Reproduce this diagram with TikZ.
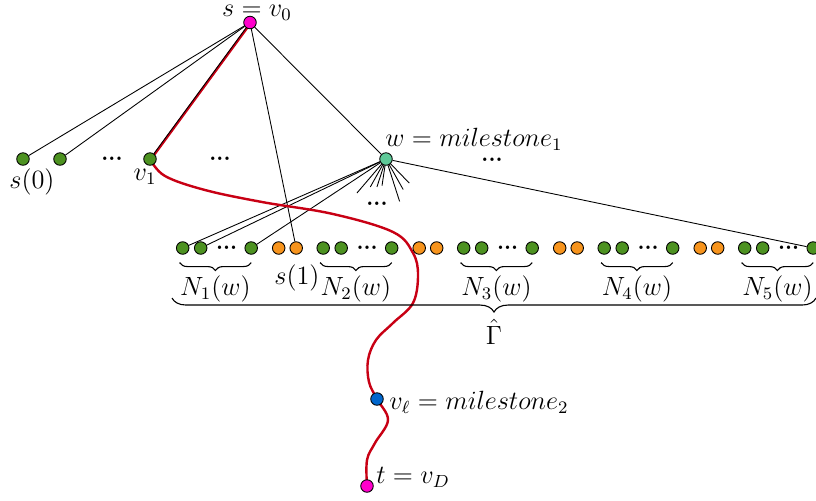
\documentclass[tikz,border=0pt]{standalone}
\usetikzlibrary{decorations.pathreplacing,backgrounds}
\definecolor{verde}{RGB}{77,146,33}
\definecolor{naranja}{RGB}{247,148,29}
\definecolor{menta}{RGB}{94,201,152}
\definecolor{rosa}{RGB}{255,0,204}
\definecolor{azul}{RGB}{0,102,204}
\definecolor{rojo}{RGB}{200,0,20}
\tikzset{
  vert/.style={circle, draw=black, line width=0.4pt, inner sep=0pt, minimum size=5.7pt},
  puntos/.style={font=\bfseries, inner sep=0pt},
  etq/.style={inner sep=1pt},
  llave/.style={decorate, decoration={brace, mirror, amplitude=3.6pt}, line width=0.5pt},
  camino/.style={rojo, line width=1.1pt, line cap=round, line join=round},
  arista/.style={line width=0.4pt}
}
\begin{document}
\begin{tikzpicture}[x=0.16cm, y=-0.16cm, font=\fontsize{11.5pt}{14pt}\selectfont]
  \useasboundingbox (0,0) rectangle (81.6,50);
  % la fuente, el destino y los dos hitos
  \node[vert, fill=rosa] (s) at (25.0,2.25) {};
  \node[vert, fill=menta] (w) at (38.6,15.9) {};
  \node[vert, fill=azul] (vl) at (37.7,39.9) {};
  \node[vert, fill=rosa] (t) at (36.7,48.6) {};
  % la primera fila
  \foreach \n/\x in {a/2.3, b/6.0, v1/15.0} {
    \node[vert, fill=verde] (\n) at (\x,15.9) {};
  }
  \foreach \x in {11.2,22.0} { \node[puntos] at (\x,15.9) {...}; }
  % la segunda fila: cinco grupos N_k(w) y, entre ellos, los naranjas
  \foreach \k in {1,...,5} {
    \pgfmathsetmacro{\x}{18.27+14.05*(\k-1)}
    \node[vert, fill=verde] (ga\k) at (\x,24.8) {};
    \node[vert, fill=verde] (gb\k) at (\x+1.8,24.8) {};
    \node[puntos] (gp\k) at (\x+4.4,24.8) {...};
    \node[vert, fill=verde] (gd\k) at (\x+6.85,24.8) {};
    \draw[llave] ([shift={(-1.4pt,-3.6pt)}]ga\k.south) -- ([yshift=-3.6pt]gd\k.south)
      node[etq, midway, yshift=-12pt] (ln\k) {$N_{\k}(w)$};
  }
  \foreach \k in {1,...,4} {
    \pgfmathsetmacro{\x}{18.27+14.05*(\k-1)}
    \node[vert, fill=naranja] (oa\k) at (\x+9.6,24.8) {};
    \node[vert, fill=naranja] (ob\k) at (\x+11.35,24.8) {};
  }
  % la llave grande
  \draw[llave, decoration={amplitude=6.4pt}] (17.2,29.8) -- (81.6,29.8)
    node[etq, midway, yshift=-15.5pt] (lgam) {$\hat\Gamma$};
  % las etiquetas
  \node[etq] (ls) at (25.7,1.3) {$s=v_0$};
  \node[etq] (lw) at (47.4,13.9) {$w=milestone_1$};
  \node[etq] (lvl) at (47.9,40.2) {$v_\ell=milestone_2$};
  \node[etq] (lt) at (41.3,47.7) {$t=v_D$};
  \node[etq] (ls0) at (3.2,18.2) {$s(0)$};
  \node[etq] (lv1) at (14.5,17.7) {$v_1$};
  \node[etq] (ls1) at (29.7,27.8) {$s(1)$};
  \node[puntos] (pw) at (37.7,20.4) {...};
  \node[puntos] (pd) at (49.2,16.0) {...};
  % las aristas, por debajo de los vertices
  \begin{scope}[on background layer]
    \foreach \n in {a, b, ob1, w} { \draw[arista] (s) -- (\n); }
    \draw[camino] ([xshift=0.5pt]s.center) -- ([xshift=0.5pt]v1.center);
    \draw[arista] (s) -- (v1);
    \foreach \n in {ga1, gb1, gd1, gd5} { \draw[arista] (w) -- (\n); }
    \foreach \a/\l in {130.5/4.47, 119.3/3.2, 108/2.94, 98.5/2.7, 72.2/4.45, 60.6/3.5, 46/3.35} {
      \draw[arista] (w.center) -- ++(\a:\l);
    }
    % el camino de s a t
    \draw[camino] plot[smooth, tension=0.6] coordinates {(v1) (16.5,17.6) (20.5,19.0)
      (26.2,20.2) (33.3,21.4) (39.3,23.2) (41.3,25.3) (41.8,27.5) (41.3,30.3)
      (39.3,32.3) (37.6,34.0) (36.8,36.0) (36.9,38.2) (vl) (38.8,42.0) (37.5,44.3) (36.7,46.0) (t)};
  \end{scope}
\end{tikzpicture}
\end{document}
